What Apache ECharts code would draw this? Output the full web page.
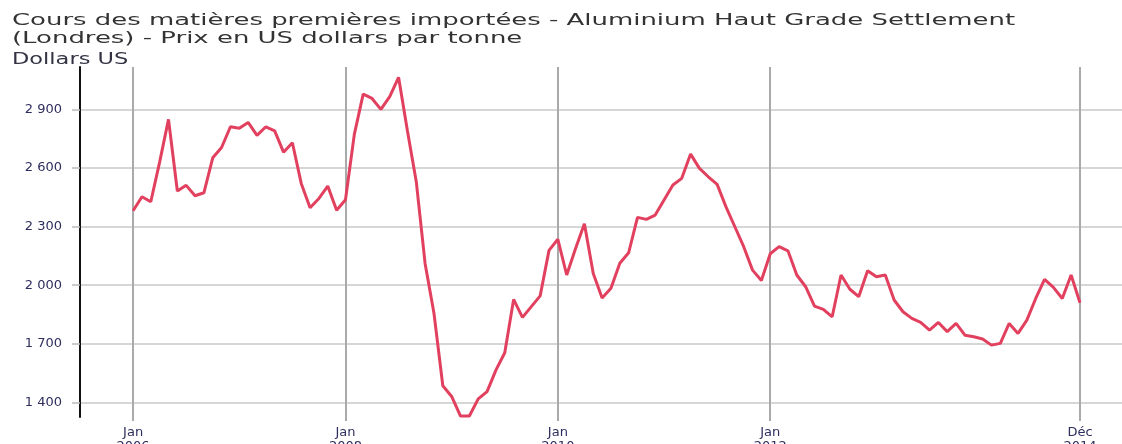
<!DOCTYPE html>
<html><head><meta charset="utf-8">
<script src="https://cdn.jsdelivr.net/npm/echarts@6/dist/echarts.min.js"></script>
<style>html,body{margin:0;padding:0;background:#fff}#c{width:1122px;height:444px}</style>
</head><body><div id="c"></div>
<script>
// Monthly prices, Jan 2006 .. Dec 2014 (index 0 = Jan 2006)
const prices = [
  2381, 2453, 2427, 2630, 2849, 2482, 2511, 2458, 2473, 2652, 2705, 2811,
  2803, 2833, 2767, 2811, 2790, 2681, 2729, 2521, 2396, 2444, 2507, 2384,
  2437, 2772, 2978, 2956, 2900, 2965, 3064, 2790, 2530, 2110, 1856, 1485,
  1430, 1330, 1330, 1418, 1455, 1565, 1654, 1927, 1835, 1890, 1945, 2178,
  2235, 2052, 2188, 2315, 2060, 1934, 1984, 2112, 2166, 2347, 2337, 2359,
  2436, 2513, 2547, 2671, 2598, 2555, 2516, 2401, 2299, 2197, 2077, 2024,
  2161, 2197, 2176, 2052, 1992, 1893, 1876, 1838, 2052, 1979, 1941, 2074,
  2043, 2052, 1924, 1864, 1830, 1810, 1770, 1809, 1762, 1804, 1744, 1736,
  1724, 1693, 1702, 1804, 1753, 1821, 1932, 2030, 1989, 1932, 2052, 1910
];
const yTicks = [1400, 1700, 2000, 2300, 2600, 2900];
const xTickIdx = [0, 24, 48, 72, 107];
const xTickLabels = ['Jan\n2006', 'Jan\n2008', 'Jan\n2010', 'Jan\n2012', 'Déc\n2014'];
const titleLines = ['Cours des matières premières importées - Aluminium Haut Grade Settlement',
                    '(Londres) - Prix en US dollars par tonne'];
const unitLabel = 'Dollars US';

const chart = echarts.init(document.getElementById('c'), null, {renderer: 'canvas'});
const fmt = v => String(v).replace(/\B(?=(\d{3})+(?!\d))/g, ' ');

chart.setOption({
  animation: false,
  backgroundColor: '#fff',
  grid: {left: 80, top: 67, right: 0, bottom: 27, containLabel: false, outerBoundsMode: 'none'},
  graphic: [
    {type: 'text', x: 12, y: 12, scaleX: 1.62, z: 10,
     style: {text: titleLines.join('\n'), font: '16px "DejaVu Sans"', fill: '#333', lineHeight: 18, textVerticalAlign: 'top'}},
    {type: 'text', x: 12, y: 53, scaleX: 1.5, z: 10,
     style: {text: unitLabel, font: '15px "DejaVu Sans"', fill: '#333344', textVerticalAlign: 'top'}}
  ],
  xAxis: {
    type: 'value', min: -6, max: 111.75,
    axisLine: {show: false, onZero: false},
    axisTick: {show: true, length: 4, customValues: xTickIdx, lineStyle: {color: '#aaa', width: 2}},
    axisLabel: {customValues: xTickIdx, formatter: v => xTickLabels[xTickIdx.indexOf(v)],
      color: '#2e2e5e', fontSize: 13, lineHeight: 14, margin: 9, fontFamily: 'DejaVu Sans'},
    splitLine: {show: true, lineStyle: {color: '#aaa', width: 2}}
  },
  yAxis: {
    type: 'value', min: 1325, max: 3117,
    axisLine: {show: true, onZero: false, lineStyle: {color: '#111', width: 2}},
    axisTick: {show: true, length: 8, customValues: yTicks, lineStyle: {color: '#bbb', width: 1.5}},
    axisLabel: {customValues: yTicks, formatter: fmt, color: '#2e2e5e', fontSize: 13, margin: 18, fontFamily: 'DejaVu Sans'},
    splitLine: {show: true, lineStyle: {color: '#c8c8c8', width: 1.5}}
  },
  series: [{
    type: 'line',
    data: prices.map((v, i) => [i, v]),
    showSymbol: false,
    lineStyle: {color: '#e2405f', width: 3},
    clip: false,
    z: 5
  }]
});
</script></body></html>
